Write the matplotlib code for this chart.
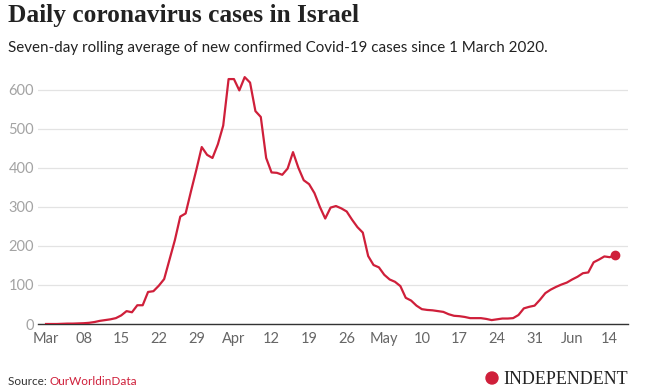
import numpy as np
import matplotlib
matplotlib.use('Agg')
import matplotlib.pyplot as plt
import matplotlib.dates as mdates
from matplotlib.patches import Ellipse

# seven-day rolling average of new cases, 1 Mar - 15 Jun 2020
dates = np.arange(np.datetime64('2020-03-01'), np.datetime64('2020-06-16'))
cases = [0, 0, 0, 0.5, 1, 1, 1.5, 2, 3, 5,
         8, 10, 12, 15, 22, 33, 30, 48, 48, 82,
         84, 98, 115, 165, 215, 275, 283, 340, 395, 453,
         433, 425, 460, 508, 627, 627, 598, 632, 618, 545,
         530, 425, 388, 387, 382, 398, 440, 400, 368, 358,
         335, 300, 270, 298, 302, 296, 288, 267, 248, 234,
         174, 151, 145, 126, 114, 108, 97, 67, 60, 47,
         38, 36, 35, 33, 31, 25, 21, 20, 18, 15,
         15, 15, 13, 10, 12, 14, 14, 15, 23, 40,
         44, 47, 62, 79, 88, 95, 101, 106, 114, 121,
         130, 132, 158, 165, 173, 171, 177]

tick_dates = np.arange(np.datetime64('2020-03-01'), np.datetime64('2020-06-15'), 7)
tick_labels = ['Mar', '08', '15', '22', '29', 'Apr', '12', '19', '26',
               'May', '10', '17', '24', '31', 'Jun', '14']
y_ticks = [0, 100, 200, 300, 400, 500, 600]

RED = '#cf1f3a'
W, H = 647, 390

fig = plt.figure(figsize=(W / 100, H / 100), dpi=100)
ax = fig.add_axes([38 / W, 66 / H, 590 / W, 250 / H])

x = mdates.date2num(dates)
ax.plot(x, cases, color=RED, lw=1.6, solid_joinstyle='round', zorder=3)
ax.plot(x[-1], cases[-1], 'o', color=RED, ms=6, zorder=4)

x0 = mdates.date2num(np.datetime64('2020-03-01'))
ax.set_xlim(x0 - 1.5, x0 + 108.4)
ax.set_ylim(0, 640)

ax.set_xticks(mdates.date2num(tick_dates))
ax.set_xticklabels(tick_labels)
ax.set_yticks(y_ticks)
ax.set_yticklabels([str(v) for v in y_ticks])

for s in ['top', 'right', 'left']:
    ax.spines[s].set_visible(False)
ax.spines['bottom'].set_color('#333333')
ax.spines['bottom'].set_linewidth(1.0)
ax.grid(axis='y', color='#e3e3e3', lw=0.9, zorder=0)
ax.set_axisbelow(True)
ax.tick_params(axis='both', length=0)
ax.tick_params(axis='x', pad=6, labelsize=10.5, labelcolor='#666666')
ax.tick_params(axis='y', pad=3, labelsize=10.5, labelcolor='#a3a3a3')
for lab in ax.get_xticklabels() + ax.get_yticklabels():
    lab.set_family('Lato')

# titles
fig.text(8 / W, 1 - 22 / H, 'Daily coronavirus cases in Israel', family='Liberation Serif',
         weight='bold', size=18.3, color='#222222', va='baseline')
fig.text(8 / W, 1 - 52 / H, 'Seven-day rolling average of new confirmed Covid-19 cases since 1 March 2020.',
         family='Lato', size=10.9, color='#222222', va='baseline')

# footer
src = fig.text(8 / W, 1 - 385 / H, 'Source: ', family='Lato', size=8.5, color='#333333', va='baseline')
fig.canvas.draw()
bb = src.get_window_extent()
fig.text(bb.x1 / W, 1 - 385 / H, 'OurWorldinData', family='Lato', size=8.5, color=RED, va='baseline')

# logo: red roundel + wordmark
fig.patches.append(Ellipse((492 / W, 1 - 378 / H), 12 / W, 12 / H, transform=fig.transFigure,
                           color=RED, zorder=5))
fig.text(628 / W, 1 - 384 / H, 'INDEPENDENT', family='Liberation Serif', size=13,
         color='#222222', ha='right', va='baseline')

fig.savefig('out.png', dpi=100)
